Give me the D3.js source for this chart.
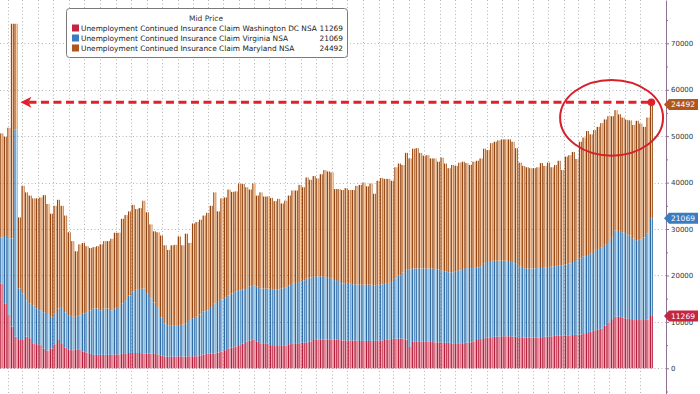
<!DOCTYPE html>
<html>
<head>
<meta charset="utf-8">
<script src="https://cdn.jsdelivr.net/npm/d3@7"></script>
<style>
  html, body { margin: 0; padding: 0; background: #fff; }
  svg { display: block; font-family: "DejaVu Sans", sans-serif; }
</style>
</head>
<body>
<div id="chart"></div>
<script>
// Weekly continued claims (NSA), in thousands. DC at the bottom, then Virginia, then Maryland.
const firstWeek = new Date(2022, 0, 19);

const dc = [18.2,14.0,11.5,9.0,6.8,6.1,6.1,6.8,6.5,5.4,
  5.2,5.0,4.2,3.8,4.3,5.2,6.1,5.4,4.5,4.0,
  3.9,4.1,4.1,3.6,3.4,3.1,2.9,2.9,2.9,2.9,
  2.9,2.9,3.0,3.0,3.1,3.1,3.3,3.3,3.3,3.3,
  3.2,3.2,3.2,3.1,3.0,2.7,2.5,2.5,2.5,2.5,
  2.6,2.5,2.5,2.6,2.6,2.6,2.8,3.0,3.1,3.2,
  3.2,3.4,3.6,3.9,4.3,4.5,4.7,5.0,5.3,5.7,
  6.0,6.2,5.8,5.4,5.4,5.3,5.0,4.8,4.8,4.8,
  4.9,5.2,5.4,5.4,5.4,5.5,5.6,5.8,6.1,6.2,
  6.2,6.2,6.2,6.2,6.2,6.1,6.0,6.0,6.0,6.0,
  6.0,5.9,5.9,5.9,5.9,5.9,6.0,6.0,6.1,6.2,
  6.3,6.4,6.4,6.4,6.2,4.6,5.7,5.7,5.7,5.7,
  5.7,5.7,5.6,5.6,5.6,5.5,5.5,5.4,5.4,5.4,
  5.4,5.5,5.6,5.8,6.1,6.3,6.5,6.6,6.7,6.8,
  6.8,6.9,6.9,6.9,6.8,6.8,6.7,6.6,6.6,6.6,
  6.6,6.6,6.7,6.8,6.8,6.9,7.0,7.0,7.1,7.1,
  7.1,7.2,7.2,7.3,7.4,7.6,7.9,8.2,8.3,8.5,
  9.2,9.9,10.6,11.1,11.1,10.9,10.7,10.6,10.4,10.4,
  10.4,10.4,10.5,11.269];

const va = [10.0,14.5,16.5,19.0,44.7,11.1,10.0,7.9,7.4,8.2,
  7.7,7.5,7.9,7.9,6.8,6.7,6.8,7.8,7.6,7.4,
  7.2,7.0,7.3,8.2,8.7,9.4,10.0,10.0,9.6,10.0,
  10.0,9.6,9.9,10.2,10.8,11.6,12.4,13.2,13.6,13.8,
  14.0,13.0,11.9,11.1,10.2,8.3,7.2,6.8,6.8,6.8,
  6.7,6.9,7.1,7.8,8.2,8.5,8.8,9.2,9.4,10.0,
  10.7,10.9,11.2,11.3,11.4,11.6,11.8,11.8,11.7,11.6,
  11.6,11.7,11.8,11.8,11.8,11.9,12.1,12.2,12.2,12.4,
  12.5,12.6,12.8,13.0,13.2,13.4,13.7,13.8,13.6,13.6,
  13.6,13.5,13.3,13.1,12.8,12.5,12.3,12.2,12.2,12.1,
  12.1,12.1,12.1,12.1,12.1,12.0,12.0,12.1,12.1,12.2,
  12.3,13.0,13.6,14.2,15.0,16.7,15.8,15.8,15.8,15.8,
  15.8,15.8,15.8,15.7,15.5,15.4,15.2,15.3,15.4,15.7,
  16.0,16.1,16.0,15.8,15.6,15.7,16.0,16.3,16.4,16.4,
  16.4,16.3,16.3,16.2,16.1,15.7,15.2,15.0,14.9,14.9,
  14.9,15.0,14.9,14.9,15.0,15.0,15.0,15.1,15.1,15.3,
  15.5,15.7,16.1,16.4,16.7,16.8,16.9,17.1,17.4,17.6,
  17.4,17.3,17.7,18.6,18.5,18.4,18.2,18.0,17.5,17.2,
  17.4,17.8,18.5,21.069];

const md = [22.4,21.4,23.8,46.2,22.7,15.3,23.2,23.2,23.3,23.0,
  23.7,24.3,25.2,23.7,22.2,23.1,23.4,21.8,20.8,17.9,
  16.3,14.1,15.3,15.2,14.2,13.4,13.2,13.4,14.2,14.5,
  14.5,15.4,16.3,16.0,18.3,18.3,18.1,18.7,17.4,17.4,
  18.9,17.4,15.9,15.3,16.1,17.6,16.8,16.2,17.2,17.3,
  19.1,17.1,19.4,16.6,20.4,20.4,20.4,20.7,21.0,21.8,
  24.0,19.5,21.8,21.6,22.8,21.9,21.6,23.0,22.7,21.7,
  20.9,21.9,19.6,20.7,19.8,19.8,19.6,19.0,19.5,18.3,
  18.7,19.4,20.1,19.9,20.9,20.1,21.8,21.0,21.7,21.1,
  22.0,23.0,22.9,22.9,19.6,20.0,20.1,20.6,20.2,20.3,
  21.2,21.5,22.0,21.2,21.8,19.7,22.4,22.9,22.6,22.4,
  21.8,23.9,24.1,23.2,25.2,23.9,25.8,25.9,24.9,24.3,
  24.4,23.7,23.8,23.2,24.3,23.2,22.4,23.1,22.8,23.2,
  23.1,22.6,22.2,22.9,23.0,23.2,24.8,24.1,25.4,25.6,
  25.9,26.1,26.1,26.2,25.9,24.9,22.4,22.0,21.8,21.6,
  21.6,21.7,22.6,21.9,22.5,21.4,21.8,22.6,20.5,23.2,
  23.3,23.7,21.8,25.1,25.6,26.7,25.6,26.0,26.3,26.7,
  27.0,27.1,26.0,25.9,25.1,24.7,24.6,24.8,24.5,25.7,
  24.9,23.8,25.0,24.492];

const seriesKeys = ['dc', 'va', 'md'];
const seriesNames = [
  'Unemployment Continued Insurance Claim Washington DC NSA',
  'Unemployment Continued Insurance Claim Virginia NSA',
  'Unemployment Continued Insurance Claim Maryland NSA'
];
const legendTitle = 'Mid Price';
const yTicks = [0, 10, 20, 30, 40, 50, 60, 70];
const yMinorTicks = [-5, 5, 15, 25, 35, 45, 55, 65, 75];

// annotation (hand drawn on the original)
const arrowTip = new Date(2022, 1, 25);
const arrowLevel = 57.3;
const ringFrom = new Date(2025, 0, 24), ringTo = new Date(2025, 7, 15);
const ringLow = 45.8, ringHigh = 62.1;

const COLORS = {
  dc: { dark: '#b41f3c', light: '#f4a3b2', badge: '#c4263f' },
  va: { dark: '#2e6ba6', light: '#b9def5', badge: '#3a7cbf' },
  md: { dark: '#964510', light: '#f8cba2', badge: '#b0561e' }
};

const W = 700, H = 394;
const axisX = 666;

const rows = dc.map((v, i) => ({
  date: d3.timeDay.offset(firstWeek, 7 * i),
  dc: v, va: va[i], md: md[i]
}));

const svg = d3.select('#chart').append('svg')
  .attr('width', W).attr('height', H);

const defs = svg.append('defs');
seriesKeys.forEach(k => {
  const g = defs.append('linearGradient')
    .attr('id', 'grad-' + k)
    .attr('x1', 0).attr('x2', 1).attr('y1', 0).attr('y2', 0);
  [[0, 'dark'], [0.28, 'dark'], [0.45, 'light'], [0.72, 'light'], [0.88, 'dark'], [1, 'dark']]
    .forEach(([o, c]) => g.append('stop').attr('offset', o).attr('stop-color', COLORS[k][c]));
});

const x = d3.scaleTime()
  .domain([rows[0].date, rows[rows.length - 1].date])
  .range([1.7, 651.4]);

const y = d3.scaleLinear()
  .domain([-5.53, 79.32])
  .range([H, 0]);

// grid
const grid = svg.append('g').attr('class', 'grid')
  .attr('stroke', '#b5b5b5').attr('stroke-width', 1)
  .attr('stroke-dasharray', '1,2.5');

grid.selectAll('line.v')
  .data(x.ticks(d3.timeMonth.every(1)))
  .enter().append('line')
  .attr('class', 'v')
  .attr('x1', d => Math.round(x(d)) + 0.5).attr('x2', d => Math.round(x(d)) + 0.5)
  .attr('y1', 0).attr('y2', H);

grid.selectAll('line.h')
  .data(yTicks)
  .enter().append('line')
  .attr('class', 'h')
  .attr('x1', 0).attr('x2', axisX)
  .attr('y1', d => Math.round(y(d)) + 0.5).attr('y2', d => Math.round(y(d)) + 0.5);

// stacked bars
const stack = d3.stack().keys(seriesKeys);
const series = stack(rows);
const bw = 3.0;

svg.append('g').selectAll('g')
  .data(series)
  .enter().append('g')
  .attr('fill', d => `url(#grad-${d.key})`)
  .selectAll('rect')
  .data(d => d)
  .enter().append('rect')
  .attr('x', d => x(d.data.date) - bw / 2)
  .attr('width', bw)
  .attr('y', d => y(d[1]))
  .attr('height', d => y(d[0]) - y(d[1]));

// right axis
const axis = svg.append('g')
  .attr('transform', `translate(${axisX},0)`)
  .call(d3.axisRight(y).tickValues(yTicks).tickSize(3).tickSizeOuter(0).tickPadding(2)
    .tickFormat(d => d3.format('d')(d * 1000)));
axis.select('.domain').attr('stroke', '#8e7290');
axis.selectAll('.tick line').attr('stroke', '#8e7290');
axis.selectAll('.tick text')
  .attr('fill', '#333')
  .style('font-family', '"DejaVu Sans", sans-serif')
  .style('font-size', '7px');

svg.append('g')
  .attr('transform', `translate(${axisX},0)`)
  .call(d3.axisRight(y).tickValues(yMinorTicks).tickSize(2).tickFormat(''))
  .call(g => g.select('.domain').remove())
  .selectAll('.tick line').attr('stroke', '#8e7290');

// last value badges
const last = series.map(s => ({ key: s.key, top: s[s.length - 1][1], value: s[s.length - 1].data[s.key] }));
const badge = svg.append('g').selectAll('g')
  .data(last)
  .enter().append('g')
  .attr('transform', d => `translate(0,${y(d.top)})`);
badge.append('path')
  .attr('d', `M${axisX - 2},0 L${axisX + 3},-5.5 L698,-5.5 L698,5.5 L${axisX + 3},5.5 Z`)
  .attr('fill', d => COLORS[d.key].badge);
badge.append('text')
  .attr('x', 683).attr('dy', '0.35em')
  .attr('text-anchor', 'middle')
  .attr('fill', '#fff')
  .style('font-size', '7.5px')
  .text(d => d3.format('d')(Math.round(d.value * 1000)));

// annotation: dashed arrow, dot and ring
const annot = svg.append('g').attr('class', 'annotation');
const lastRow = rows[rows.length - 1];
const ay = y(arrowLevel);
const tipX = x(arrowTip);
annot.append('line')
  .attr('x1', tipX + 8).attr('x2', x(lastRow.date))
  .attr('y1', ay).attr('y2', ay)
  .attr('stroke', '#e0202a').attr('stroke-width', 3)
  .attr('stroke-dasharray', '8,4.5');
annot.append('path')
  .attr('d', `M${tipX},${ay} L${tipX + 11},${ay - 5.5} L${tipX + 8},${ay} L${tipX + 11},${ay + 5.5} Z`)
  .attr('fill', '#e0202a');
annot.append('circle')
  .attr('cx', x(lastRow.date)).attr('cy', ay).attr('r', 3.8)
  .attr('fill', '#e0202a');
annot.append('ellipse')
  .attr('cx', (x(ringFrom) + x(ringTo)) / 2)
  .attr('cy', (y(ringLow) + y(ringHigh)) / 2)
  .attr('rx', (x(ringTo) - x(ringFrom)) / 2)
  .attr('ry', (y(ringLow) - y(ringHigh)) / 2)
  .attr('fill', 'none')
  .attr('stroke', '#d8202c').attr('stroke-width', 2);

// legend
const legend = svg.append('g').attr('transform', 'translate(66,8)');
legend.append('rect')
  .attr('x', 0.5).attr('y', 0.5).attr('width', 281).attr('height', 49).attr('rx', 3)
  .attr('fill', '#fff').attr('stroke', '#7a7a7a');
legend.append('text')
  .attr('x', 140).attr('y', 13)
  .attr('text-anchor', 'middle')
  .attr('fill', '#333')
  .style('font-size', '7.5px')
  .text(legendTitle);
const item = legend.selectAll('g.item')
  .data(seriesKeys)
  .enter().append('g')
  .attr('class', 'item')
  .attr('transform', (d, i) => `translate(0,${23 + i * 10})`);
item.append('rect')
  .attr('x', 6).attr('y', -6.5).attr('width', 7).attr('height', 7)
  .attr('fill', k => COLORS[k].badge);
item.append('text')
  .attr('x', 15).attr('y', 0)
  .attr('fill', '#222')
  .style('font-size', '7.4px')
  .text((k, i) => seriesNames[i]);
item.append('text')
  .attr('x', 277).attr('y', 0)
  .attr('text-anchor', 'end')
  .attr('fill', '#222')
  .style('font-size', '7.4px')
  .text(k => d3.format('d')(Math.round(last.find(l => l.key === k).value * 1000)));
</script>
</body>
</html>
